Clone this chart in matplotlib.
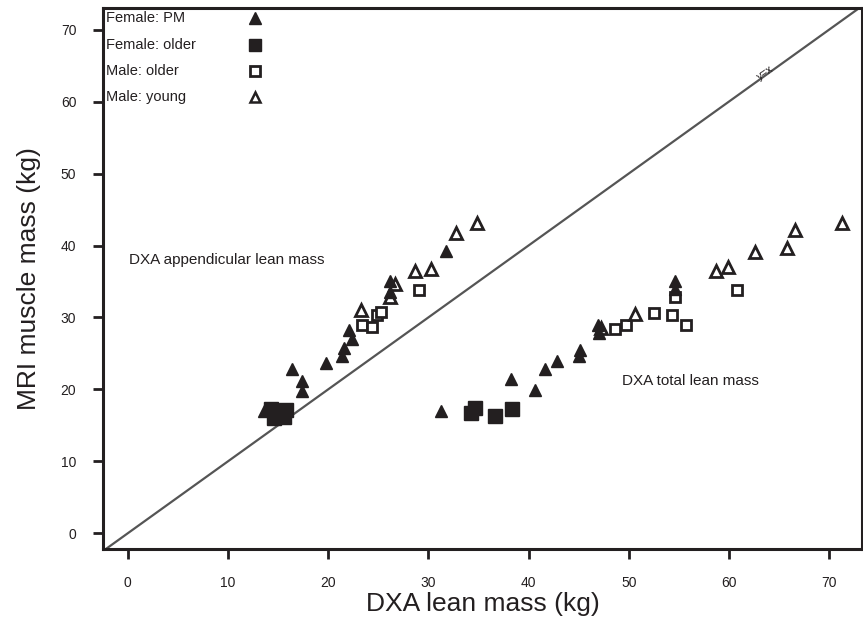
import matplotlib.pyplot as plt
import numpy as np

plt.rcParams['font.family'] = ['Liberation Sans', 'DejaVu Sans']

# MRI muscle mass vs DXA lean mass, by group
# appendicular lean mass (left cluster) and total lean mass (right cluster)
fpm_app_x = [13.6, 16.4, 17.4, 17.4, 19.8, 21.4, 21.6, 22.1, 22.4, 26.2, 26.2, 31.8]
fpm_app_y = [17.0, 22.9, 21.2, 19.8, 23.7, 24.7, 25.8, 28.2, 27.0, 35.1, 33.5, 39.3]
fpm_tot_x = [31.3, 38.3, 40.6, 41.6, 42.8, 45.0, 45.1, 46.9, 47.0, 54.6, 54.6]
fpm_tot_y = [17.0, 21.5, 19.9, 22.9, 24.0, 24.7, 25.5, 28.9, 27.9, 35.1, 34.0]

fold_app_x = [14.3, 15.0, 15.6, 15.8, 14.6]
fold_app_y = [17.3, 16.6, 16.2, 17.2, 16.0]
fold_tot_x = [34.7, 34.3, 36.7, 38.4]
fold_tot_y = [17.4, 16.7, 16.3, 17.3]

mold_app_x = [23.4, 24.4, 24.9, 25.3, 29.1]
mold_app_y = [28.9, 28.7, 30.3, 30.8, 33.8]
mold_tot_x = [48.6, 49.7, 52.5, 54.3, 55.7, 54.6, 60.8]
mold_tot_y = [28.4, 28.9, 30.6, 30.4, 28.9, 32.8, 33.8]

myoung_app_x = [23.3, 26.7, 26.2, 28.7, 30.3, 32.8, 34.9]
myoung_app_y = [31.0, 34.7, 32.8, 36.5, 36.8, 41.8, 43.1]
myoung_tot_x = [50.6, 47.2, 58.7, 59.9, 62.6, 65.8, 66.6, 71.3]
myoung_tot_y = [30.5, 28.6, 36.5, 37.0, 39.1, 39.6, 42.1, 43.1]

groups = ['Female: PM', 'Female: older', 'Male: older', 'Male: young']

ink = '#231f20'

fig = plt.figure(figsize=(8.63, 6.24), dpi=100)
ax = fig.add_axes([0.119, 0.120, 0.880, 0.867])

# identity line
ax.plot([-5, 80], [-5, 80], color='#555555', linewidth=1.6, zorder=1)

ms = 9
ax.plot(fpm_app_x + fpm_tot_x, fpm_app_y + fpm_tot_y, '^', color=ink, ms=ms, ls='none', zorder=3)
ax.plot(fold_app_x + fold_tot_x, fold_app_y + fold_tot_y, 's', color=ink, ms=ms + 1, ls='none', zorder=3)
ax.plot(mold_app_x + mold_tot_x, mold_app_y + mold_tot_y, 's', mfc='white', mec=ink, mew=2,
		ms=7.5, ls='none', zorder=2)
ax.plot(myoung_app_x + myoung_tot_x, myoung_app_y + myoung_tot_y, '^', mfc='white', mec=ink, mew=2,
		ms=8, ls='none', zorder=2)

# labels in the plot
ax.text(0.1, 38.0, 'DXA appendicular lean mass', fontsize=11, color=ink, va='center')
ax.text(49.3, 21.2, 'DXA total lean mass', fontsize=11, color=ink, va='center')
ax.text(63.6, 64.0, 'y=x', fontsize=8, color=ink, rotation=35, ha='center', va='center')

# legend drawn by hand: text left, marker right
leg_y = [0.981, 0.932, 0.884, 0.835]
leg_style = [
	dict(marker='^', color=ink, ms=8),
	dict(marker='s', color=ink, ms=9),
	dict(marker='s', mfc='white', mec=ink, mew=2, ms=7),
	dict(marker='^', mfc='white', mec=ink, mew=1.8, ms=7),
]
for name, yy, st in zip(groups, leg_y, leg_style):
	ax.text(0.005, yy, name, transform=ax.transAxes, fontsize=10.5, color=ink, va='center')
	ax.plot([0.200], [yy], transform=ax.transAxes, ls='none', clip_on=False, **st)

ax.set_xlim(-2.5, 73.3)
ax.set_ylim(-2.2, 73.0)
ax.set_xticks(np.arange(0, 71, 10))
ax.set_yticks(np.arange(0, 71, 10))
ax.tick_params(direction='out', length=7, width=2, labelsize=10, colors=ink, pad=12)

for s in ax.spines.values():
	s.set_linewidth(2.2)
	s.set_color(ink)

ax.set_xlabel('DXA lean mass (kg)', fontsize=19, color=ink, labelpad=2)
ax.set_ylabel('MRI muscle mass (kg)', fontsize=19, color=ink, labelpad=14)

fig.savefig('out.png', dpi=100)
